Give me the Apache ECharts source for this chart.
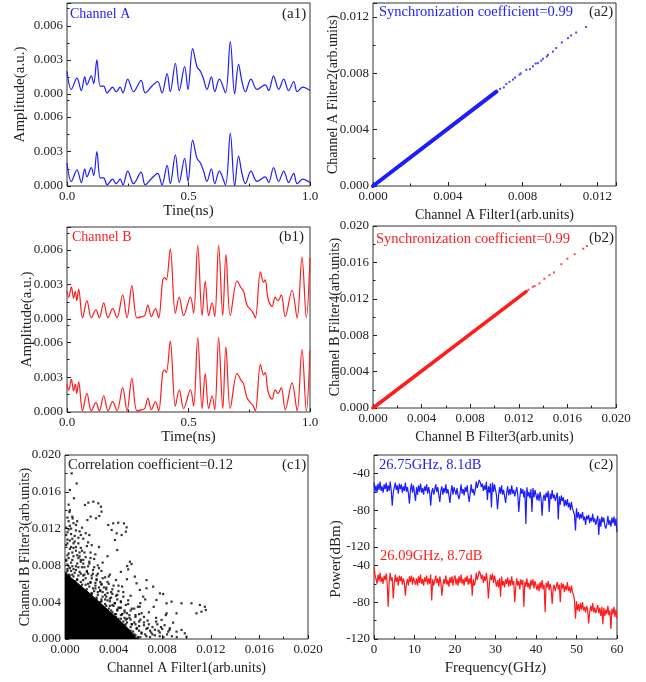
<!DOCTYPE html>
<html>
<head>
<meta charset="utf-8">
<title>Channel synchronization</title>
<script src="https://cdn.jsdelivr.net/npm/echarts@6/dist/echarts.min.js"></script>
<style>
html, body { margin: 0; padding: 0; background: #fff; }
#main { width: 646px; height: 682px; }
</style>
</head>
<body>
<div id="main"></div>
<script>
// data
// (a1) channel A time trace, peaks and troughs
var timeA = [0, 0.018, 0.041, 0.059, 0.073, 0.082, 0.100, 0.110, 0.123, 0.137, 0.151, 0.165, 0.188, 0.202, 0.219, 0.230, 0.250, 0.274, 0.305, 0.322, 0.350, 0.373, 0.391, 0.412, 0.425, 0.446, 0.462, 0.484, 0.498, 0.517, 0.535, 0.549, 0.562, 0.576, 0.594, 0.608, 0.627, 0.652, 0.672, 0.690, 0.706, 0.720, 0.734, 0.757, 0.782, 0.816, 0.830, 0.850, 0.871, 0.892, 0.912, 0.933, 0.947, 0.970, 1.000];
var ampA = [0.0020, 0.0004, 0.0014, 0.0003, 0.0015, 0.0008, 0.0016, 0.0009, 0.0030, 0.0007, 0.0007, 0.0001, 0.0006, 0.0002, 0.0006, 0.0001, 0.0013, 0.0002, 0.0012, 0.0001, 0.0007, 0.0011, 0.0001, 0.0018, 0.0002, 0.0027, 0.0003, 0.0024, 0.0004, 0.0040, 0.0024, 0.0020, 0.0013, 0.0004, 0.0015, 0.0002, 0.0013, 0.0001, 0.0046, 0.0000, 0.0026, 0.0011, 0.0002, 0.0013, 0.0004, 0.0008, 0.0003, 0.0016, 0.0004, 0.0013, 0.0003, 0.0011, 0.0002, 0.0006, 0.0003];

// (b1) channel B time trace
var timeB = [0, 0.007, 0.018, 0.027, 0.034, 0.040, 0.048, 0.064, 0.082, 0.100, 0.119, 0.133, 0.151, 0.169, 0.188, 0.206, 0.229, 0.247, 0.267, 0.288, 0.309, 0.320, 0.333, 0.347, 0.364, 0.377, 0.394, 0.402, 0.409, 0.425, 0.446, 0.462, 0.480, 0.508, 0.521, 0.538, 0.556, 0.569, 0.583, 0.597, 0.608, 0.624, 0.641, 0.654, 0.672, 0.700, 0.717, 0.727, 0.741, 0.764, 0.775, 0.796, 0.809, 0.816, 0.827, 0.844, 0.857, 0.868, 0.882, 0.898, 0.926, 0.947, 0.967, 0.985, 1.000];
var ampB = [0.0024, 0.0019, 0.0028, 0.0018, 0.0024, 0.0016, 0.0026, 0.0001, 0.0016, 0.0001, 0.0008, 0.0001, 0.0014, 0.0001, 0.0009, 0.0001, 0.0021, 0.0001, 0.0029, 0.0001, 0.0002, 0.0003, 0.0012, 0.0002, 0.0009, 0.0001, 0.0034, 0.0036, 0.0034, 0.0061, 0.0005, 0.0019, 0.0003, 0.0019, 0.0005, 0.0064, 0.0003, 0.0033, 0.0003, 0.0014, 0.0002, 0.0064, 0.0003, 0.0056, 0.0003, 0.0033, 0.0027, 0.0024, 0.0012, 0.0006, 0.0001, 0.0041, 0.0032, 0.0034, 0.0018, 0.0011, 0.0019, 0.0016, 0.0021, 0.0002, 0.0025, 0.0001, 0.0054, 0.0001, 0.0053];

// (a2) filter1 vs filter2: dense band + stray points
var a2Band = [[0, 0], [0.0066, 0.0067]];
var a2Dots = [[0.0068, 0.0069], [0.0070, 0.0070], [0.00713, 0.00725], [0.0073, 0.0074], [0.00749, 0.00756], [0.0076, 0.0077], [0.00784, 0.00791], [0.0079, 0.0080], [0.0082, 0.00826], [0.0084, 0.0083], [0.00856, 0.0085], [0.0087, 0.0087], [0.00882, 0.00873], [0.0090, 0.0089], [0.00909, 0.00904], [0.0093, 0.0092], [0.00936, 0.00932], [0.00963, 0.00955], [0.0098, 0.0098], [0.0101, 0.0102], [0.01043, 0.0105], [0.0106, 0.0107], [0.01087, 0.0109], [0.0114, 0.0113]];

// (b2) filter3 vs filter4
var b2Band = [[0, 0], [0.0126, 0.0128]];
var b2Dots = [[0.0128, 0.0130], [0.01315, 0.01332], [0.0133, 0.0134], [0.0137, 0.0137], [0.0141, 0.0142], [0.01452, 0.0146], [0.0149, 0.0149], [0.0155, 0.0158], [0.0160, 0.0164], [0.0166, 0.0169], [0.0173, 0.0175], [0.0176, 0.0178]];

// (c1) channel A vs channel B: solid core outline + scattered points
var c1Core = [[0, 0.0072], [0.0010, 0.0061], [0.0020, 0.0050], [0.0030, 0.0038], [0.0040, 0.0026], [0.0050, 0.0014], [0.0058, 0.0002], [0.0060, 0]];
var c1Dots = [
  [0.0052, 0.0003], [0.0056, 0.0008], [0.0060, 0.0002], [0.0063, 0.0006], [0.0059, 0.0012], [0.0067, 0.0003], [0.0070, 0.0009], [0.0065, 0.0015], [0.0074, 0.0004], [0.0078, 0.0007],
  [0.0072, 0.0013], [0.0081, 0.0002], [0.0084, 0.0005], [0.0061, 0.0019], [0.0055, 0.0016], [0.0050, 0.0021], [0.0068, 0.0020], [0.0076, 0.0016], [0.0088, 0.0003], [0.0053, 0.0026],
  [0.0058, 0.0024], [0.0063, 0.0028], [0.0047, 0.0027], [0.0049, 0.0031], [0.0055, 0.0033], [0.0060, 0.0035], [0.0044, 0.0034], [0.0041, 0.0039], [0.0046, 0.0040], [0.0052, 0.0042],
  [0.0038, 0.0045], [0.0043, 0.0048], [0.0035, 0.0050], [0.0039, 0.0054], [0.0048, 0.0051], [0.0032, 0.0056], [0.0036, 0.0060], [0.0029, 0.0062], [0.0033, 0.0067], [0.0026, 0.0069],
  [0.0030, 0.0074], [0.0023, 0.0075], [0.0027, 0.0080], [0.0020, 0.0082], [0.0024, 0.0087], [0.0017, 0.0089], [0.0021, 0.0094], [0.0014, 0.0096], [0.0018, 0.0101], [0.0011, 0.0104],
  [0.0015, 0.0109], [0.0008, 0.0112], [0.0012, 0.0117], [0.0005, 0.0120], [0.0009, 0.0124], [0.0003, 0.0128], [0.0006, 0.0133], [0.0002, 0.0116], [0.0004, 0.0107], [0.0007, 0.0099],
  [0.0010, 0.0091], [0.0013, 0.0084], [0.0016, 0.0078], [0.0019, 0.0071], [0.0022, 0.0066], [0.0025, 0.0061], [0.0028, 0.0056], [0.0031, 0.0051], [0.0034, 0.0046], [0.0037, 0.0041],
  [0.0040, 0.0036], [0.0043, 0.0031], [0.0046, 0.0026], [0.0049, 0.0023], [0.0051, 0.0018], [0.0054, 0.0013], [0.0057, 0.0005], [0.0003, 0.0093], [0.0006, 0.0086], [0.0009, 0.0079],
  [0.0012, 0.0073], [0.0015, 0.0069], [0.0002, 0.0081], [0.0005, 0.0074], [0.0001, 0.0102], [0.0010, 0.0065], [0.0004, 0.0069], [0.0013, 0.0062], [0.0020, 0.0057], [0.0024, 0.0052],
  [0.0027, 0.0048], [0.0030, 0.0043], [0.0033, 0.0038], [0.0036, 0.0033], [0.0039, 0.0029], [0.0042, 0.0024], [0.0045, 0.0019], [0.0048, 0.0015], [0.0050, 0.0009], [0.0053, 0.0005],
  [0.0017, 0.0059], [0.0007, 0.0068], [0.0022, 0.0049], [0.0029, 0.0040], [0.0004, 0.0123],
  [0.0019, 0.0105], [0.0025, 0.0092], [0.0031, 0.0083], [0.0037, 0.0070], [0.0042, 0.0064], [0.0047, 0.0057], [0.0054, 0.0047], [0.0062, 0.0039], [0.0069, 0.0029], [0.0075, 0.0023],
  [0.0080, 0.0011], [0.0086, 0.0010], [0.0092, 0.0002], [0.0028, 0.0100], [0.0035, 0.0090], [0.0014, 0.0121], [0.0020, 0.0113], [0.0046, 0.0073], [0.0051, 0.0065], [0.0066, 0.0043],
  [0.0073, 0.0035], [0.0083, 0.0026], [0.0003, 0.0070], [0.0008, 0.0063], [0.0026, 0.0043],
  [0.0032, 0.0026], [0.0034, 0.0020], [0.0043, 0.0043], [0.0049, 0.0006], [0.0002, 0.0076], [0.0006, 0.0079], [0.0001, 0.0086],
  [0.0004, 0.0098], [0.0002, 0.0108], [0.0001, 0.0113], [0.0008, 0.0106], [0.0011, 0.0088], [0.0015, 0.0082], [0.0018, 0.0074], [0.0021, 0.0062], [0.0025, 0.0055], [0.0029, 0.0052],
  [0.0033, 0.0043], [0.0037, 0.0036], [0.0041, 0.0027], [0.0044, 0.0022], [0.0048, 0.0019], [0.0052, 0.0010], [0.0056, 0.0002], [0.0061, 0.0009], [0.0058, 0.0016], [0.0054, 0.0021],
  [0.0051, 0.0028], [0.0046, 0.0034], [0.0039, 0.0049], [0.0034, 0.0054], [0.0030, 0.0059], [0.0026, 0.0064], [0.0023, 0.0071], [0.0019, 0.0079], [0.0015, 0.0086],
  [0.0012, 0.0094], [0.0009, 0.0100], [0.0006, 0.0109], [0.0003, 0.0119],
  [0.0002, 0.0074], [0.0003, 0.0079], [0.0001, 0.0085], [0.0002, 0.0091], [0.0006, 0.0070], [0.0007, 0.0076], [0.0005, 0.0083], [0.0006, 0.0094],
  [0.0010, 0.0064], [0.0011, 0.0069], [0.0009, 0.0075], [0.0010, 0.0082], [0.0012, 0.0090], [0.0014, 0.0059], [0.0015, 0.0064], [0.0013, 0.0071], [0.0014, 0.0078],
  [0.0018, 0.0054], [0.0019, 0.0060], [0.0017, 0.0066], [0.0018, 0.0073], [0.0020, 0.0084], [0.0022, 0.0050], [0.0023, 0.0055], [0.0021, 0.0061], [0.0022, 0.0069],
  [0.0026, 0.0045], [0.0027, 0.0051], [0.0025, 0.0058], [0.0026, 0.0065], [0.0028, 0.0077], [0.0030, 0.0041], [0.0031, 0.0046], [0.0029, 0.0053], [0.0030, 0.0060],
  [0.0034, 0.0036], [0.0035, 0.0042], [0.0033, 0.0048], [0.0034, 0.0056], [0.0036, 0.0068], [0.0038, 0.0031], [0.0039, 0.0037], [0.0037, 0.0044], [0.0038, 0.0051],
  [0.0042, 0.0027], [0.0043, 0.0032], [0.0041, 0.0039], [0.0042, 0.0047], [0.0044, 0.0058], [0.0046, 0.0022], [0.0047, 0.0027], [0.0045, 0.0034], [0.0046, 0.0041],
  [0.0050, 0.0016], [0.0051, 0.0022], [0.0049, 0.0029], [0.0050, 0.0037], [0.0054, 0.0009], [0.0055, 0.0016], [0.0053, 0.0023], [0.0054, 0.0031],
  [0.0058, 0.0004], [0.0059, 0.0011], [0.0057, 0.0018], [0.0058, 0.0026], [0.0062, 0.0002], [0.0063, 0.0007], [0.0061, 0.0014], [0.0062, 0.0021],
  [0.0066, 0.0005], [0.0067, 0.0011], [0.0065, 0.0018], [0.0070, 0.0002], [0.0071, 0.0007], [0.0069, 0.0016], [0.0074, 0.0010], [0.0075, 0.0019],
  [0.0078, 0.0003], [0.0079, 0.0013],
  [0.0001, 0.0072], [0.0004, 0.0077], [0.0008, 0.0072], [0.0003, 0.0088], [0.0007, 0.0090], [0.0011, 0.0078], [0.0013, 0.0086], [0.0016, 0.0070], [0.0005, 0.0100], [0.0009, 0.0096],
  [0.0013, 0.0099], [0.0016, 0.0094], [0.0002, 0.0104], [0.0007, 0.0104], [0.0011, 0.0110], [0.0005, 0.0114], [0.0009, 0.0118], [0.0013, 0.0113], [0.0001, 0.0121], [0.0007, 0.0126],
  [0.0002, 0.0132], [0.0004, 0.0140], [0.0010, 0.0128], [0.0017, 0.0115], [0.0022, 0.0102], [0.0021, 0.0088], [0.0024, 0.0078], [0.0027, 0.0071], [0.0031, 0.0066], [0.0035, 0.0062],
  [0.0040, 0.0058], [0.0044, 0.0052], [0.0048, 0.0046], [0.0052, 0.0038], [0.0057, 0.0033], [0.0061, 0.0027], [0.0065, 0.0024], [0.0068, 0.0012], [0.0072, 0.0005], [0.0077, 0.0009],
  [0.0082, 0.0015], [0.0085, 0.0008],
  [0.00055, 0.0180], [0.00096, 0.0169], [0.0004, 0.0162], [0.00074, 0.0153], [0.0003, 0.0146], [0.00036, 0.0138], [0.00063, 0.0131], [0.00164, 0.01457], [0.00192, 0.01482], [0.00233, 0.01493],
  [0.00274, 0.01475], [0.00296, 0.01438], [0.00301, 0.01384], [0.00282, 0.01337], [0.00255, 0.01312], [0.00211, 0.0133], [0.00184, 0.01293], [0.00356, 0.01239], [0.00397, 0.01257], [0.00438, 0.01264],
  [0.00485, 0.01257], [0.00507, 0.01214], [0.00501, 0.01167], [0.00466, 0.0113], [0.00425, 0.01149], [0.00384, 0.01185], [0.00411, 0.01076], [0.0043, 0.00967], [0.00534, 0.0084], [0.00512, 0.00793],
  [0.00548, 0.00815], [0.0052, 0.00757], [0.00616, 0.00533], [0.00671, 0.00551], [0.00726, 0.00569], [0.00781, 0.00496], [0.00808, 0.00489], [0.00753, 0.00424], [0.00836, 0.00388], [0.00877, 0.00406],
  [0.00959, 0.00388], [0.01041, 0.00388], [0.0111, 0.0037], [0.01151, 0.00351], [0.01159, 0.00315], [0.01123, 0.00297], [0.01082, 0.00279], [0.00918, 0.00279], [0.00836, 0.00279], [0.00795, 0.00207],
  [0.0089, 0.00178], [0.00959, 0.00098], [0.00986, 0.00062], [0.00918, 0.0008], [0.00863, 0.00116], [0.0100, 0.00025], [0.00671, 0.0064], [0.00589, 0.00605], [0.00575, 0.00678], [0.00644, 0.0046],
  [0.00616, 0.00351]
];

// (c2) power spectra, one value every 0.25 GHz from 0 to 60 GHz
var freqStep = 0.25;
var powerA = [
  -50, -60, -53, -61, -51, -58, -49, -59, -54, -61, -52, -57, -50, -60, -53, -59, -49, -58, -75, -61,
  -60, -50, -58, -53, -62, -51, -57, -52, -61, -54, -59, -50, -60, -55, -62, -73, -58, -51, -61, -53,
  -52, -70, -55, -63, -53, -60, -51, -61, -56, -63, -54, -59, -52, -62, -55, -61, -75, -60, -56, -63,
  -62, -52, -60, -55, -64, -71, -59, -54, -63, -56, -61, -52, -62, -57, -64, -72, -60, -53, -63, -55,
  -53, -63, -56, -64, -68, -61, -52, -62, -57, -64, -55, -60, -53, -63, -71, -62, -52, -61, -57, -64,
  -58, -49, -56, -51, -47, -50, -55, -51, -59, -53, -58, -49, -69, -54, -61, -51, -77, -50, -60, -52,
  -54, -64, -79, -65, -55, -62, -53, -63, -58, -65, -72, -61, -54, -64, -57, -63, -53, -62, -58, -65,
  -65, -55, -63, -82, -67, -56, -62, -57, -66, -59, -95, -55, -65, -60, -67, -57, -82, -56, -66, -58,
  -59, -69, -62, -70, -60, -67, -86, -68, -63, -70, -61, -66, -59, -82, -62, -68, -58, -67, -63, -70,
  -71, -61, -90, -65, -74, -64, -70, -66, -76, -69, -75, -68, -77, -72, -80, -71, -78, -76, -85, -102,
  -78, -88, -82, -90, -84, -89, -82, -91, -87, -96, -86, -90, -85, -94, -88, -92, -84, -93, -89, -96,
  -96, -86, -107, -89, -98, -87, -93, -88, -97, -100, -95, -86, -96, -91, -98, -88, -94, -87, -97, -89,
  -104
];
var powerB = [
  -42, -50, -52, -60, -50, -57, -48, -58, -53, -60, -51, -56, -49, -59, -85, -58, -48, -57, -53, -76,
  -60, -50, -58, -53, -62, -51, -57, -52, -61, -54, -59, -73, -60, -55, -62, -52, -58, -51, -61, -53,
  -51, -61, -54, -62, -52, -59, -50, -60, -55, -62, -53, -58, -51, -61, -54, -60, -50, -78, -55, -62,
  -61, -51, -59, -54, -63, -52, -58, -73, -62, -55, -60, -51, -61, -56, -63, -53, -59, -52, -62, -54,
  -51, -61, -54, -62, -52, -59, -50, -60, -55, -62, -53, -58, -51, -61, -54, -60, -50, -73, -55, -62,
  -58, -48, -56, -51, -46, -49, -55, -50, -59, -52, -57, -48, -58, -76, -60, -50, -56, -49, -59, -51,
  -53, -63, -56, -64, -54, -74, -52, -62, -57, -64, -55, -60, -53, -63, -56, -62, -52, -61, -57, -80,
  -64, -54, -62, -57, -66, -55, -61, -56, -85, -58, -63, -54, -64, -59, -66, -56, -62, -55, -65, -57,
  -57, -67, -60, -68, -58, -65, -56, -66, -61, -91, -59, -64, -57, -67, -60, -66, -82, -65, -61, -68,
  -68, -58, -66, -61, -80, -59, -65, -60, -69, -62, -67, -58, -68, -63, -70, -62, -69, -72, -78, -98,
  -79, -89, -82, -90, -81, -88, -80, -89, -85, -91, -84, -88, -103, -91, -84, -90, -81, -91, -86, -92,
  -93, -83, -92, -86, -95, -85, -104, -86, -95, -88, -93, -84, -94, -89, -109, -87, -93, -85, -96, -88,
  -98
];
// power tick labels shown on each of the two stacked spectrum panels
var powerTicks = [-120, -80, -40];
var powerRange = [-120, -20];

var FONT = '"Liberation Serif", "Times New Roman", serif';
var BLUE = '#1c1cff';
var RED = '#ff1c1c';
var INK = '#222';

function pairs(xs, ys) {
  return xs.map(function (x, i) { return [x, ys[i]]; });
}
function spectrum(p) {
  return p.map(function (v, i) { return [i * freqStep, v]; });
}

// only label the real ticks, not the axis end
function tickFmt(interval, digits) {
  return function (v) {
    var k = v / interval;
    return Math.abs(k - Math.round(k)) < 1e-6 ? v.toFixed(digits) : '';
  };
}

// the c2 frame axis runs over both stacked panels (lower then upper)
function powerFmt(v) {
  var span = powerRange[1] - powerRange[0];
  if (v >= 2 * span) return '';
  var db = powerRange[0] + (v % span);
  return powerTicks.indexOf(db) >= 0 ? String(db) : '';
}

function box(left, top, width, height, frame) {
  return {
    left: left, top: top, width: width, height: height,
    show: !!frame, borderColor: '#333', borderWidth: 1,
    backgroundColor: 'transparent', containLabel: false, outerBoundsMode: 'none'
  };
}

function numAxis(grid, min, max, interval, digits, extra) {
  var ax = {
    gridIndex: grid, type: 'value', min: min, max: max, interval: interval,
    axisLine: { show: false },
    axisTick: { show: true, inside: true, length: 4, lineStyle: { color: INK } },
    minorTick: { show: true, splitNumber: 2, length: 2.5, lineStyle: { color: INK } },
    splitLine: { show: false },
    minorSplitLine: { show: false },
    axisLabel: {
      fontFamily: FONT, fontSize: 13, color: INK, margin: 4,
      hideOverlap: false, showMinLabel: true, showMaxLabel: true,
      formatter: tickFmt(interval, digits)
    },
    nameLocation: 'middle',
    nameMoveOverlap: false,
    nameTextStyle: { fontFamily: FONT, fontSize: 14, color: INK }
  };
  return Object.assign(ax, extra || {});
}

function hiddenAxis(grid, min, max) {
  return { gridIndex: grid, type: 'value', min: min, max: max, show: false };
}

function nameAxis(grid, name, gap, pad) {
  return {
    gridIndex: grid, type: 'value', min: 0, max: 1,
    axisLine: { show: false }, axisTick: { show: false }, axisLabel: { show: false },
    splitLine: { show: false },
    name: name, nameLocation: 'middle', nameGap: gap, nameMoveOverlap: false,
    nameTextStyle: { fontFamily: FONT, fontSize: 15, color: INK, padding: pad || 0 }
  };
}

function note(text, left, top, color, size) {
  return {
    text: text, left: left, top: top, padding: 0,
    textStyle: { fontFamily: FONT, fontSize: size || 14.5, fontWeight: 'normal', color: color || INK }
  };
}

function trace(idx, data, color) {
  return {
    type: 'line', xAxisIndex: idx, yAxisIndex: idx, data: data,
    symbol: 'none', smooth: 0.35, lineStyle: { color: color, width: 1.2 }
  };
}

var chart = echarts.init(document.getElementById('main'));

var powerSpan = powerRange[1] - powerRange[0];
var powerFrameAxis = nameAxis(9, 'Power(dBm)', 30, [0, 24, 0, 0]);
powerFrameAxis.min = 0;
powerFrameAxis.max = 2 * powerSpan;
powerFrameAxis.interval = 20;
powerFrameAxis.axisLabel = {
  show: true, fontFamily: FONT, fontSize: 13, color: INK, margin: 4,
  hideOverlap: false, showMinLabel: true, showMaxLabel: true, formatter: powerFmt
};

var powerSubAxis = function (grid) {
  var ax = numAxis(grid, powerRange[0], powerRange[1], 40, 0);
  ax.axisLabel = { show: false };
  return ax;
};

var option = {
  animation: false,
  backgroundColor: '#fff',
  title: [
    note('Channel A', 70, 7, BLUE, 14),
    note('(a1)', 282, 7, INK, 15),
    note('Synchronization coefficient=0.99', 379, 5, BLUE),
    note('(a2)', 589, 5, INK, 15),
    note('Channel B', 72, 230, RED, 14),
    note('(b1)', 279, 230, INK, 15),
    note('Synchronization coefficient=0.99', 376, 232, RED),
    note('(b2)', 589, 231, INK, 15),
    note('Correlation coefficient=0.12', 68, 458, INK),
    note('(c1)', 282, 458, INK, 15),
    note('26.75GHz, 8.1dB', 379, 458, BLUE),
    note('26.09GHz, 8.7dB', 380, 549, RED),
    note('(c2)', 589, 458, INK, 15)
  ],
  grid: [
    box(67, 3, 243, 183, true),   // 0 a1 frame
    box(67, 3, 243, 91),          // 1 a1 filter1
    box(67, 94, 243, 92),         // 2 a1 filter2
    box(373, 3, 243, 183, true),  // 3 a2
    box(67, 227, 243, 185, true), // 4 b1 frame
    box(67, 227, 243, 92),        // 5 b1 filter3
    box(67, 319, 243, 93),        // 6 b1 filter4
    box(373, 226, 243, 182, true),// 7 b2
    box(65, 455, 243, 184, true), // 8 c1
    box(374, 455, 243, 184, true),// 9 c2 frame
    box(374, 455, 243, 92),       // 10 c2 channel A
    box(374, 547, 243, 92)        // 11 c2 channel B
  ],
  xAxis: [
    numAxis(0, 0, 1, 0.5, 1, { name: 'Tine(ns)', nameGap: 18, nameTextStyle: { fontFamily: FONT, fontSize: 15, color: INK } }),
    hiddenAxis(1, 0, 1),
    hiddenAxis(2, 0, 1),
    numAxis(3, 0, 0.013, 0.004, 3, { name: 'Channel A Filter1(arb.units)', nameGap: 22 }),
    numAxis(4, 0, 1, 0.5, 1, { name: 'Time(ns)', nameGap: 18, nameTextStyle: { fontFamily: FONT, fontSize: 15, color: INK } }),
    hiddenAxis(5, 0, 1),
    hiddenAxis(6, 0, 1),
    numAxis(7, 0, 0.02, 0.004, 3, { name: 'Channel B Filter3(arb.units)', nameGap: 22 }),
    numAxis(8, 0, 0.02, 0.004, 3, { name: 'Channel A Filter1(arb.units)', nameGap: 22 }),
    numAxis(9, 0, 60, 10, 0, { name: 'Frequency(GHz)', nameGap: 22, nameTextStyle: { fontFamily: FONT, fontSize: 15, color: INK } }),
    hiddenAxis(10, 0, 60),
    hiddenAxis(11, 0, 60)
  ],
  yAxis: [
    nameAxis(0, 'Amplitude(a.u.)', 39),
    numAxis(1, 0, 0.008, 0.003, 3),
    numAxis(2, 0, 0.008, 0.003, 3),
    numAxis(3, 0, 0.013, 0.004, 3, { name: 'Channel A Filter2(arb.units)', nameGap: 33 }),
    nameAxis(4, 'Amplitude(a.u.)', 32),
    numAxis(5, 0, 0.008, 0.003, 3),
    numAxis(6, 0, 0.008, 0.003, 3),
    numAxis(7, 0, 0.02, 0.004, 3, { name: 'Channel B Filter4(arb.units)', nameGap: 31 }),
    numAxis(8, 0, 0.02, 0.004, 3, { name: 'Channel B Filter3(arb.units)', nameGap: 33 }),
    powerFrameAxis,
    powerSubAxis(10),
    powerSubAxis(11)
  ],
  series: [
    trace(1, pairs(timeA, ampA), BLUE),
    trace(2, pairs(timeA, ampA), BLUE),
    {
      type: 'line', xAxisIndex: 3, yAxisIndex: 3, data: a2Band, symbol: 'none',
      lineStyle: { color: BLUE, width: 4, cap: 'round' }
    },
    {
      type: 'scatter', xAxisIndex: 3, yAxisIndex: 3, data: a2Dots,
      symbol: 'rect', symbolSize: 2, itemStyle: { color: BLUE }
    },
    trace(5, pairs(timeB, ampB), RED),
    trace(6, pairs(timeB, ampB), RED),
    {
      type: 'line', xAxisIndex: 7, yAxisIndex: 7, data: b2Band, symbol: 'none',
      lineStyle: { color: RED, width: 3.5, cap: 'round' }
    },
    {
      type: 'scatter', xAxisIndex: 7, yAxisIndex: 7, data: b2Dots,
      symbol: 'rect', symbolSize: 2, itemStyle: { color: RED }
    },
    {
      type: 'line', xAxisIndex: 8, yAxisIndex: 8, data: c1Core, symbol: 'none',
      lineStyle: { color: '#000', width: 1 }, areaStyle: { color: '#000', opacity: 1 }
    },
    {
      type: 'scatter', xAxisIndex: 8, yAxisIndex: 8, data: c1Dots,
      symbol: 'rect', symbolSize: 2.2, itemStyle: { color: '#000' }
    },
    {
      type: 'line', xAxisIndex: 10, yAxisIndex: 10, data: spectrum(powerA), symbol: 'none',
      lineStyle: { color: BLUE, width: 1.2 }
    },
    {
      type: 'line', xAxisIndex: 11, yAxisIndex: 11, data: spectrum(powerB), symbol: 'none',
      lineStyle: { color: RED, width: 1.2 }
    }
  ]
};

chart.setOption(option);
</script>
</body>
</html>
